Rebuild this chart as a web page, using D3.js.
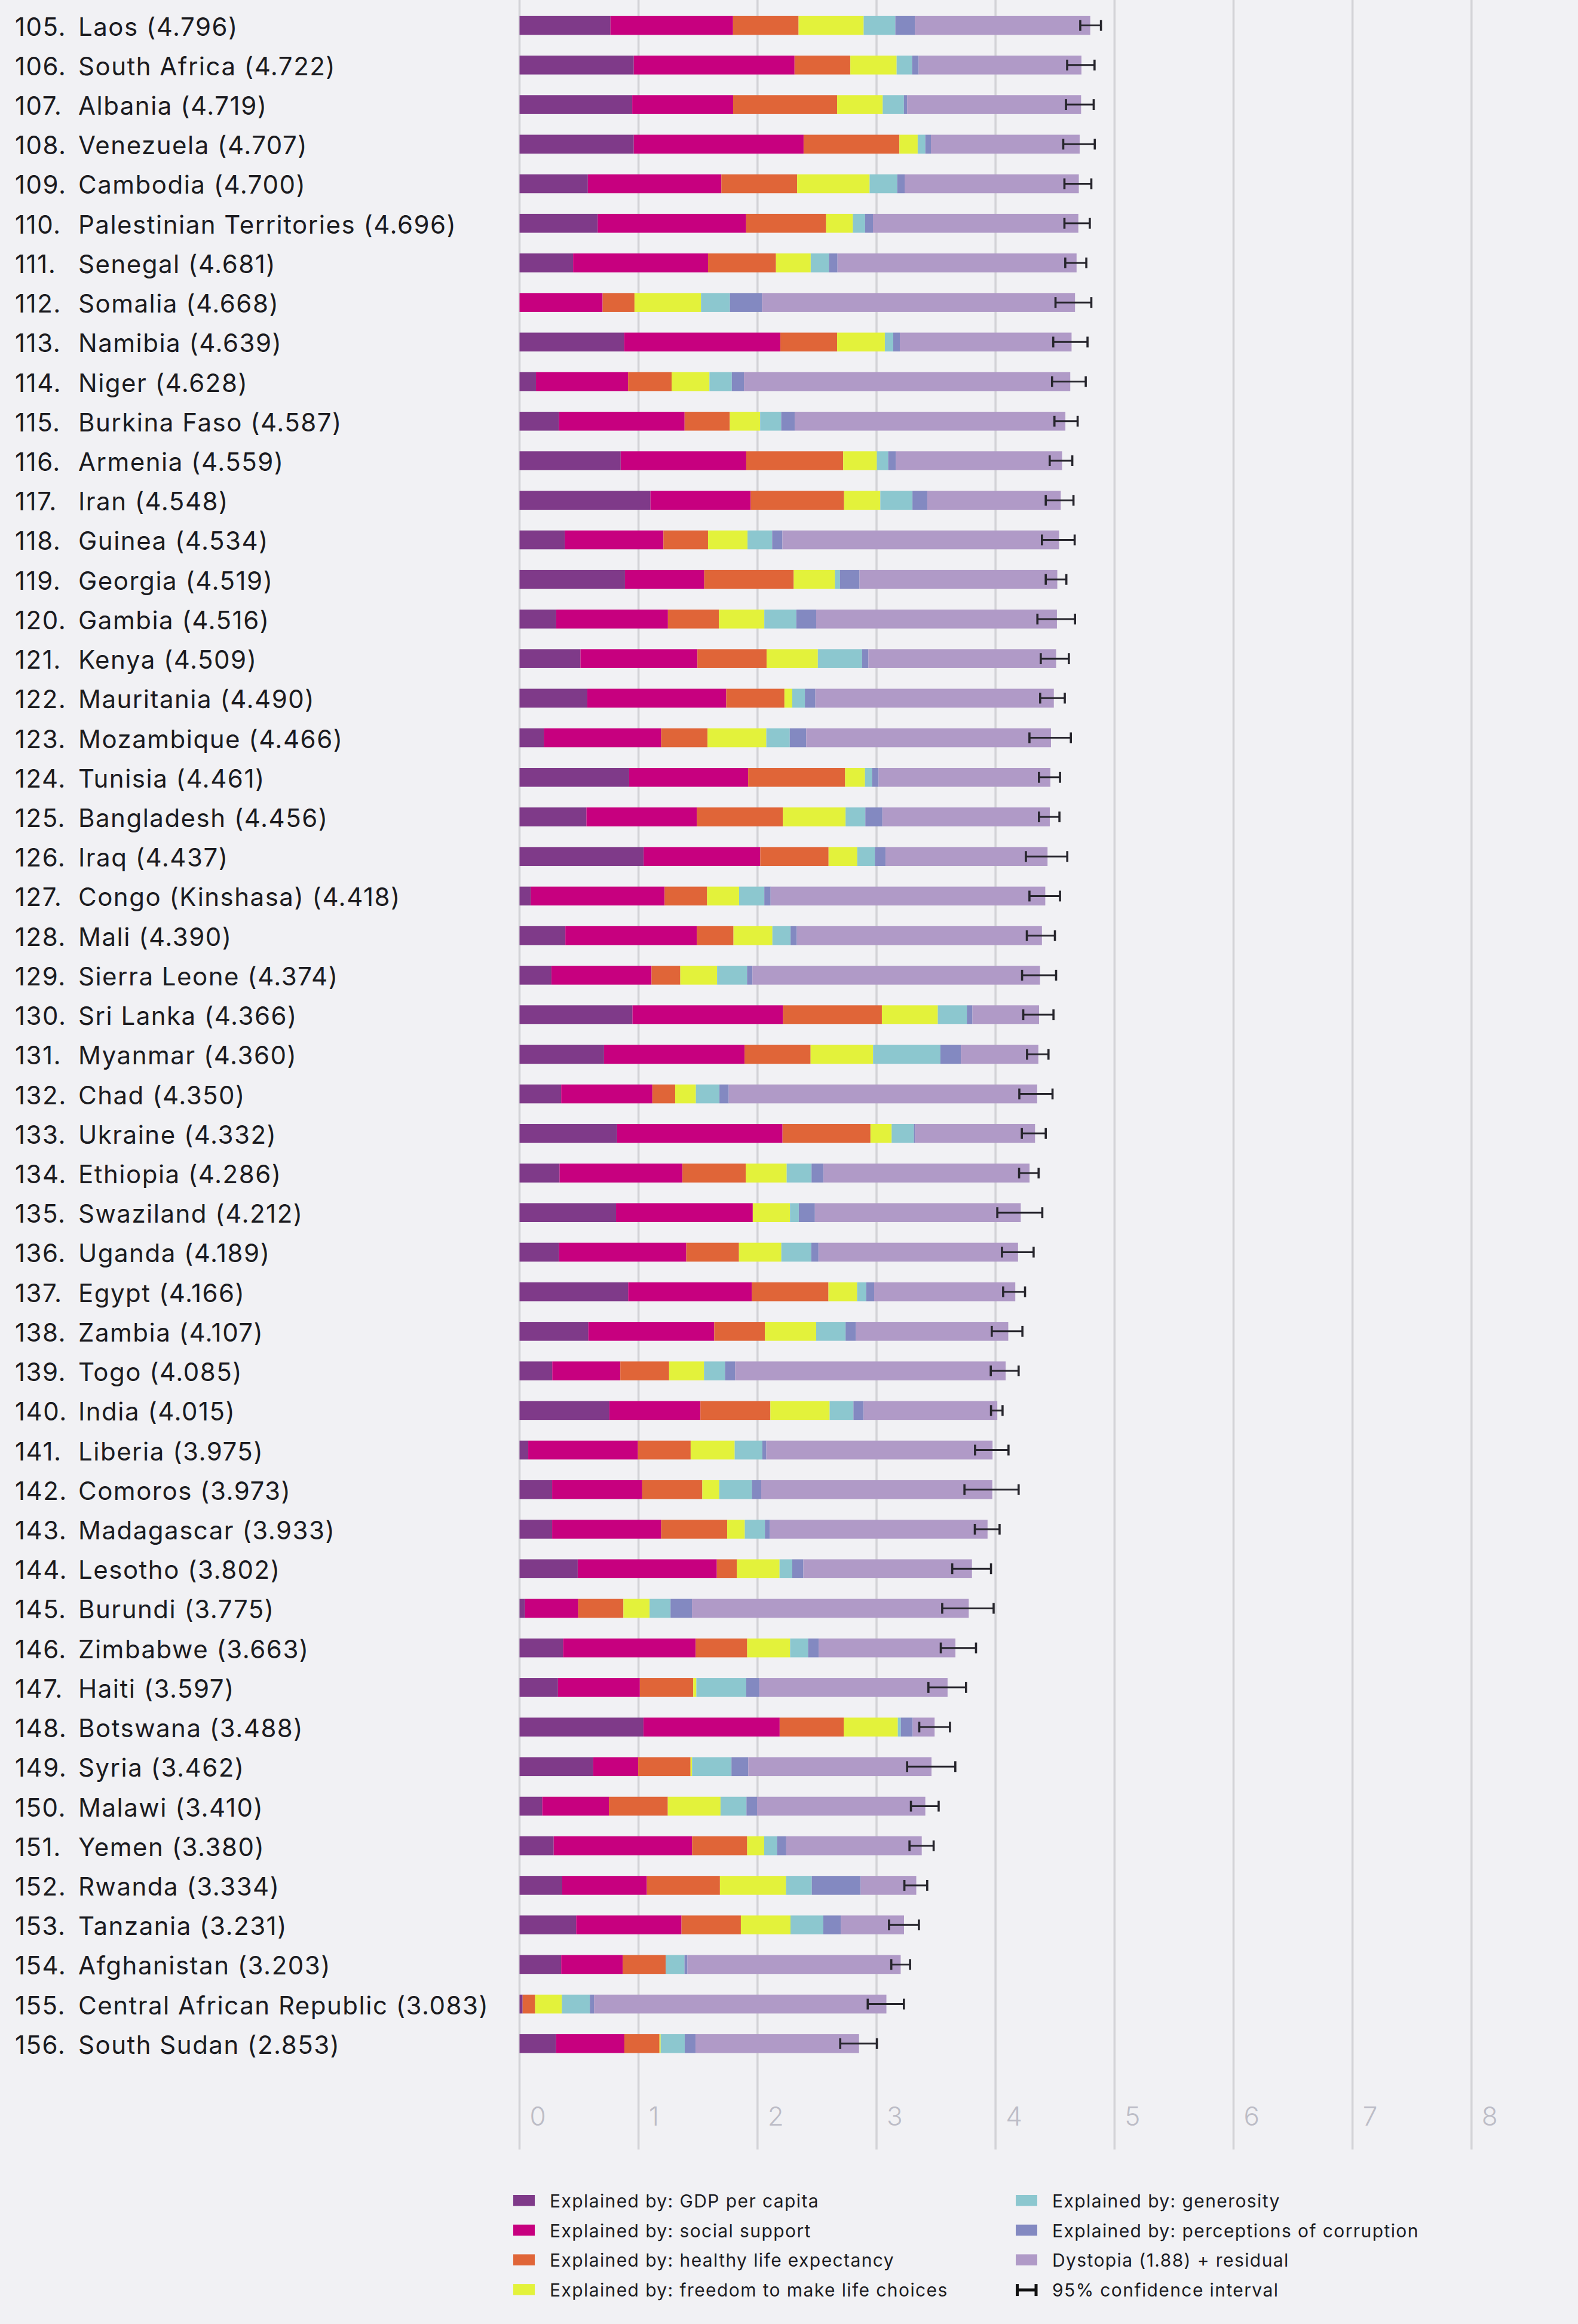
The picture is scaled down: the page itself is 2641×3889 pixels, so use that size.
<!DOCTYPE html>
<html>
<head>
<meta charset="utf-8">
<script src="https://cdn.jsdelivr.net/npm/d3@7"></script>
<style>
  html, body { margin: 0; padding: 0; background: #f1f1f4; }
  svg { display: block; }
  text { font-family: Inter, "Noto Sans", sans-serif; }
</style>
</head>
<body>
<svg id="chart" width="2641" height="3889"></svg>
<script>
const ranks = [105,106,107,108,109,110,111,112,113,114,115,116,117,118,119,120,121,122,123,124,125,126,127,128,129,130,131,132,133,134,135,136,137,138,139,140,141,142,143,144,145,146,147,148,149,150,151,152,153,154,155,156];
const countries = ["Laos","South Africa","Albania","Venezuela","Cambodia","Palestinian Territories","Senegal","Somalia","Namibia","Niger","Burkina Faso","Armenia","Iran","Guinea","Georgia","Gambia","Kenya","Mauritania","Mozambique","Tunisia","Bangladesh","Iraq","Congo (Kinshasa)","Mali","Sierra Leone","Sri Lanka","Myanmar","Chad","Ukraine","Ethiopia","Swaziland","Uganda","Egypt","Zambia","Togo","India","Liberia","Comoros","Madagascar","Lesotho","Burundi","Zimbabwe","Haiti","Botswana","Syria","Malawi","Yemen","Rwanda","Tanzania","Afghanistan","Central African Republic","South Sudan"];
const scores = [4.796,4.722,4.719,4.707,4.700,4.696,4.681,4.668,4.639,4.628,4.587,4.559,4.548,4.534,4.519,4.516,4.509,4.490,4.466,4.461,4.456,4.437,4.418,4.390,4.374,4.366,4.360,4.350,4.332,4.286,4.212,4.189,4.166,4.107,4.085,4.015,3.975,3.973,3.933,3.802,3.775,3.663,3.597,3.488,3.462,3.410,3.380,3.334,3.231,3.203,3.083,2.853];
const gdp = [0.764,0.960,0.947,0.960,0.574,0.657,0.450,0.000,0.879,0.138,0.331,0.850,1.100,0.380,0.886,0.308,0.512,0.570,0.204,0.921,0.562,1.043,0.094,0.385,0.268,0.949,0.710,0.350,0.820,0.336,0.811,0.332,0.913,0.578,0.275,0.755,0.073,0.274,0.274,0.489,0.046,0.366,0.323,1.041,0.619,0.191,0.287,0.359,0.476,0.350,0.026,0.306];
const social = [1.030,1.351,0.848,1.427,1.122,1.247,1.134,0.698,1.313,0.774,1.056,1.055,0.842,0.829,0.666,0.939,0.983,1.167,0.986,1.000,0.928,0.980,1.125,1.105,0.841,1.265,1.181,0.766,1.390,1.033,1.149,1.069,1.039,1.058,0.572,0.765,0.922,0.757,0.916,1.169,0.447,1.114,0.688,1.145,0.378,0.560,1.163,0.711,0.885,0.517,0.000,0.575];
const health = [0.551,0.469,0.874,0.805,0.637,0.672,0.571,0.268,0.477,0.366,0.380,0.815,0.785,0.375,0.752,0.428,0.581,0.489,0.390,0.815,0.723,0.574,0.357,0.308,0.242,0.831,0.555,0.192,0.739,0.532,0.000,0.443,0.644,0.426,0.410,0.588,0.443,0.505,0.555,0.168,0.380,0.433,0.449,0.538,0.440,0.495,0.463,0.614,0.499,0.361,0.105,0.295];
const freedom = [0.547,0.389,0.383,0.154,0.609,0.225,0.292,0.559,0.401,0.318,0.255,0.283,0.305,0.332,0.346,0.382,0.431,0.066,0.494,0.167,0.527,0.241,0.269,0.327,0.309,0.470,0.525,0.174,0.178,0.344,0.313,0.356,0.241,0.431,0.293,0.498,0.370,0.142,0.148,0.359,0.220,0.361,0.026,0.455,0.013,0.443,0.143,0.555,0.417,0.000,0.225,0.010];
const generosity = [0.266,0.130,0.178,0.064,0.232,0.103,0.153,0.243,0.070,0.188,0.177,0.095,0.270,0.207,0.043,0.269,0.372,0.106,0.197,0.059,0.166,0.148,0.212,0.153,0.252,0.244,0.566,0.198,0.187,0.209,0.074,0.252,0.076,0.247,0.177,0.200,0.233,0.275,0.169,0.107,0.176,0.151,0.419,0.025,0.331,0.218,0.108,0.217,0.276,0.158,0.235,0.202];
const corruption = [0.164,0.055,0.027,0.047,0.062,0.066,0.072,0.270,0.056,0.102,0.113,0.064,0.125,0.086,0.164,0.167,0.053,0.088,0.138,0.055,0.143,0.089,0.053,0.052,0.045,0.047,0.172,0.078,0.010,0.100,0.135,0.060,0.067,0.087,0.085,0.085,0.033,0.078,0.041,0.093,0.180,0.089,0.110,0.100,0.141,0.089,0.077,0.411,0.147,0.025,0.035,0.091];
const ciLow = [4.712,4.602,4.592,4.569,4.579,4.579,4.586,4.504,4.485,4.475,4.495,4.455,4.422,4.390,4.422,4.352,4.380,4.375,4.285,4.365,4.365,4.255,4.285,4.263,4.223,4.233,4.265,4.200,4.221,4.198,4.015,4.054,4.064,3.968,3.960,3.962,3.828,3.739,3.826,3.636,3.552,3.540,3.436,3.359,3.257,3.289,3.277,3.234,3.105,3.124,2.926,2.695];
const ciHigh = [4.886,4.832,4.825,4.834,4.805,4.792,4.763,4.805,4.773,4.758,4.690,4.645,4.655,4.665,4.595,4.668,4.616,4.582,4.633,4.542,4.537,4.603,4.542,4.499,4.509,4.487,4.445,4.479,4.422,4.362,4.393,4.320,4.248,4.226,4.194,4.059,4.109,4.194,4.034,3.962,3.984,3.836,3.752,3.617,3.662,3.522,3.480,3.426,3.356,3.282,3.230,3.003];
const xTicks = [0,1,2,3,4,5,6,7,8];

const seriesKeys = ["gdp","social","health","freedom","generosity","corruption","dystopia"];
const seriesLabels = ["Explained by: GDP per capita","Explained by: social support","Explained by: healthy life expectancy","Explained by: freedom to make life choices","Explained by: generosity","Explained by: perceptions of corruption","Dystopia (1.88) + residual"];
const seriesColors = ["#7f3a89","#c7007f","#e06538","#e3f23b","#8cc7cf","#8389c1","#b09ac7"];

const rows = ranks.map((r, i) => {
  const sumF = gdp[i] + social[i] + health[i] + freedom[i] + generosity[i] + corruption[i];
  return { rank: r, country: countries[i], score: scores[i],
    gdp: gdp[i], social: social[i], health: health[i], freedom: freedom[i],
    generosity: generosity[i], corruption: corruption[i],
    dystopia: Math.max(0, scores[i] - sumF), lo: ciLow[i], hi: ciHigh[i] };
});

const svg = d3.select("#chart");
svg.append("rect").attr("width", 2641).attr("height", 3889).attr("fill", "#f1f1f4");

const x = d3.scaleLinear().domain([0, 8]).range([869.5, 2462.8]);
const n = ranks.length;
const pitch = 66.22;
const y = d3.scaleBand().domain(ranks).range([9.5, 9.5 + n * pitch])
  .paddingInner(0.523).paddingOuter(0.2615);

// gridlines
svg.append("g").selectAll("line").data(xTicks).join("line")
  .attr("x1", d => x(d)).attr("x2", d => x(d))
  .attr("y1", 0).attr("y2", 3597)
  .attr("stroke", "#d3d3d7").attr("stroke-width", 3.5);

// tick labels
svg.append("g").selectAll("text").data(xTicks).join("text")
  .attr("x", d => x(d) + 17).attr("y", 3557)
  .attr("font-size", 44).attr("font-weight", 300)
  .attr("fill", "#bcbcc6").text(d => d);

// stacked bars
const stack = d3.stack().keys(seriesKeys);
const stacked = stack(rows);
const color = d3.scaleOrdinal().domain(seriesKeys).range(seriesColors);

svg.append("g").selectAll("g").data(stacked).join("g")
  .attr("fill", d => color(d.key))
  .selectAll("rect").data(d => d).join("rect")
  .attr("x", d => x(d[0]))
  .attr("width", d => Math.max(0, x(d[1]) - x(d[0])))
  .attr("y", d => y(d.data.rank))
  .attr("height", y.bandwidth());

// error bars
const eb = svg.append("g").attr("stroke", "#26252c");
rows.forEach(d => {
  const cy = y(d.rank) + y.bandwidth() / 2;
  eb.append("line").attr("x1", x(d.lo)).attr("x2", x(d.hi)).attr("y1", cy).attr("y2", cy).attr("stroke-width", 3);
  eb.append("line").attr("x1", x(d.lo)).attr("x2", x(d.lo)).attr("y1", cy - 9).attr("y2", cy + 9).attr("stroke-width", 3.6);
  eb.append("line").attr("x1", x(d.hi)).attr("x2", x(d.hi)).attr("y1", cy - 9).attr("y2", cy + 9).attr("stroke-width", 3.6);
});

// row labels
const lab = svg.append("g").attr("font-size", 42).attr("fill", "#1b1b1f").attr("letter-spacing", 1.5);
lab.selectAll("text.rank").data(rows).join("text").attr("class", "rank")
  .attr("x", 25).attr("y", d => y(d.rank) + y.bandwidth() / 2 + 17)
  .text(d => d.rank + ".");
lab.selectAll("text.name").data(rows).join("text").attr("class", "name")
  .attr("x", 131).attr("y", d => y(d.rank) + y.bandwidth() / 2 + 17)
  .text(d => `${d.country} (${d.score.toFixed(3)})`);

// legend
const legendItems = seriesKeys.map((k, i) => ({ label: seriesLabels[i], color: seriesColors[i], type: "rect" }));
legendItems.push({ label: "95% confidence interval", type: "ci" });
const leg = svg.append("g").attr("font-size", 30).attr("fill", "#1b1b1f").attr("letter-spacing", 1.4);
legendItems.forEach((it, i) => {
  const col = i < 4 ? 0 : 1;
  const row = i % 4;
  const sx = col === 0 ? 859 : 1700;
  const by = 3694 + row * 49.7;
  const g = leg.append("g");
  if (it.type === "rect") {
    g.append("rect").attr("x", sx).attr("y", by - 21).attr("width", 36).attr("height", 18.5).attr("fill", it.color);
  } else {
    const cy = by - 11;
    g.append("line").attr("x1", sx + 2.5).attr("x2", sx + 2.5).attr("y1", cy - 10).attr("y2", cy + 10).attr("stroke", "#111").attr("stroke-width", 5);
    g.append("line").attr("x1", sx + 34).attr("x2", sx + 34).attr("y1", cy - 10).attr("y2", cy + 10).attr("stroke", "#111").attr("stroke-width", 5);
    g.append("line").attr("x1", sx).attr("x2", sx + 36).attr("y1", cy).attr("y2", cy).attr("stroke", "#111").attr("stroke-width", 5);
  }
  g.append("text").attr("x", sx + 61).attr("y", by).text(it.label);
});
</script>
</body>
</html>
